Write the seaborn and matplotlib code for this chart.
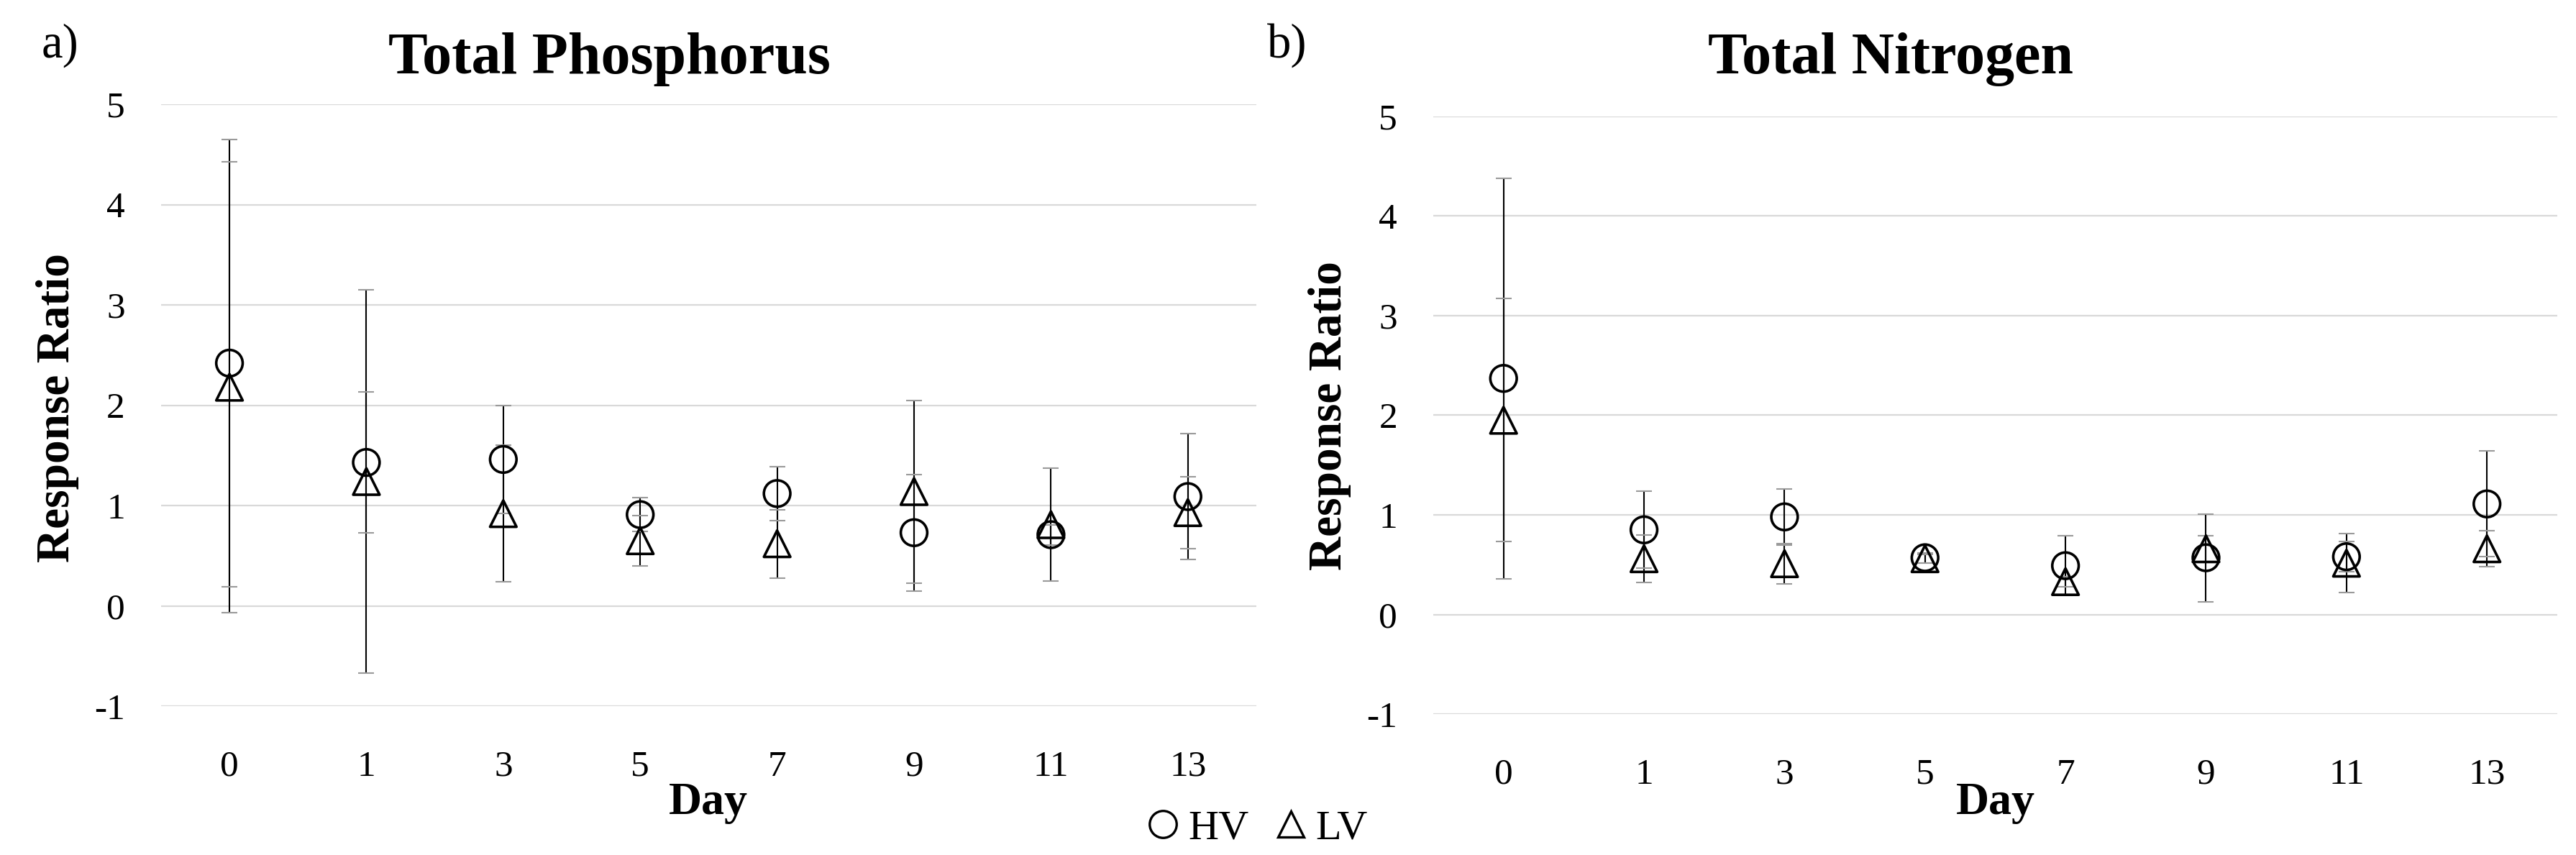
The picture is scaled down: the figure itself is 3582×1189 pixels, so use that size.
import matplotlib
matplotlib.use("Agg")
import matplotlib.pyplot as plt
import pandas as pd
import seaborn as sns
from matplotlib.lines import Line2D

# Day categories (shown as evenly spaced categories)
days = ["0", "1", "3", "5", "7", "9", "11", "13"]

# Total Phosphorus response ratios and error bar half-widths
tp_hv = [2.42, 1.43, 1.46, 0.91, 1.12, 0.73, 0.71, 1.09]
tp_hv_err = [2.23, 0.70, 0.54, 0.17, 0.27, 0.58, 0.10, 0.63]
tp_lv = [2.18, 1.24, 0.92, 0.65, 0.62, 1.14, 0.81, 0.93]
tp_lv_err = [2.25, 1.91, 0.68, 0.25, 0.34, 0.91, 0.56, 0.36]

# Total Nitrogen response ratios and error bar half-widths
tn_hv = [2.37, 0.85, 0.98, 0.57, 0.49, 0.57, 0.58, 1.11]
tn_hv_err = [2.01, 0.385, 0.28, 0.05, 0.30, 0.44, 0.15, 0.53]
tn_lv = [1.95, 0.56, 0.51, 0.56, 0.33, 0.66, 0.515, 0.66]
tn_lv_err = [1.22, 0.235, 0.20, 0.04, 0.05, 0.13, 0.295, 0.18]

y_ticks = [-1, 0, 1, 2, 3, 4, 5]

SERIF = ["Liberation Serif", "DejaVu Serif"]


def build_frame(hv, hv_err, lv, lv_err):
    return pd.DataFrame({
        "Day": days + days,
        "Treatment": ["HV"] * len(days) + ["LV"] * len(days),
        "Ratio": hv + lv,
        "Err": hv_err + lv_err,
    })


def draw_panel(ax, df):
    ax.errorbar(df["Day"], df["Ratio"], yerr=df["Err"], fmt="none",
                ecolor="#9a9a9a", elinewidth=1.5, capsize=8, capthick=1.5, zorder=2)
    sns.scatterplot(data=df, x="Day", y="Ratio", style="Treatment",
                    markers={"HV": "o", "LV": "^"}, color="black", s=700,
                    linewidth=2.6, legend=False, ax=ax, zorder=3)
    for coll in ax.collections:
        coll.set_facecolor("none")
        coll.set_edgecolor("black")

    ax.set_xlim(-0.5, len(days) - 0.5)
    ax.set_ylim(-1, 5)
    ax.set_yticks(y_ticks)
    ax.set_yticklabels([str(t) for t in y_ticks])
    ax.grid(axis="y", color="#d9d9d9", linewidth=1.6)
    ax.grid(axis="x", visible=False)
    for spine in ax.spines.values():
        spine.set_visible(False)
    ax.tick_params(axis="both", length=0, labelsize=37, labelcolor="black")
    ax.tick_params(axis="x", pad=44)
    ax.tick_params(axis="y", pad=36)
    ax.set_xlabel("")
    ax.set_ylabel("")


sns.set_theme(style="whitegrid")
plt.rcParams["font.family"] = SERIF
plt.rcParams["text.color"] = "black"

fig = plt.figure(figsize=(35.82, 11.89), dpi=100)
ax_p = fig.add_axes([0.0625, 0.174, 0.4252, 0.704])
ax_n = fig.add_axes([0.5564, 0.1648, 0.4363, 0.699])

draw_panel(ax_p, build_frame(tp_hv, tp_hv_err, tp_lv, tp_lv_err))
draw_panel(ax_n, build_frame(tn_hv, tn_hv_err, tn_lv, tn_lv_err))

# titles and panel letters
fig.text(0.2365, 0.914, "Total Phosphorus", fontsize=59, fontweight="bold", ha="center", va="baseline")
fig.text(0.734, 0.914, "Total Nitrogen", fontsize=59, fontweight="bold", ha="center", va="baseline")
fig.text(0.016, 0.933, "a)", fontsize=48, ha="left", va="baseline")
fig.text(0.492, 0.933, "b)", fontsize=48, ha="left", va="baseline")

# axis labels
fig.text(0.275, 0.048, "Day", fontsize=46, fontweight="bold", ha="center", va="baseline")
fig.text(0.7746, 0.048, "Day", fontsize=46, fontweight="bold", ha="center", va="baseline")
fig.text(0.0223, 0.523, "Response Ratio", fontsize=47, fontweight="bold", rotation=90, ha="center", va="center")
fig.text(0.5162, 0.514, "Response Ratio", fontsize=47, fontweight="bold", rotation=90, ha="center", va="center")

handles = [
    Line2D([], [], marker="o", linestyle="none", markersize=27, markerfacecolor="none",
           markeredgecolor="black", markeredgewidth=2.4),
    Line2D([], [], marker="^", linestyle="none", markersize=26, markerfacecolor="none",
           markeredgecolor="black", markeredgewidth=2.4),
]
fig.legend(handles, ["HV", "LV"], loc="center", bbox_to_anchor=(0.488, 0.031), ncol=2,
           frameon=False, fontsize=42, handlelength=0.8, handletextpad=0.2, columnspacing=0.6,
           borderpad=0)

fig.savefig("out.png", dpi=100)
